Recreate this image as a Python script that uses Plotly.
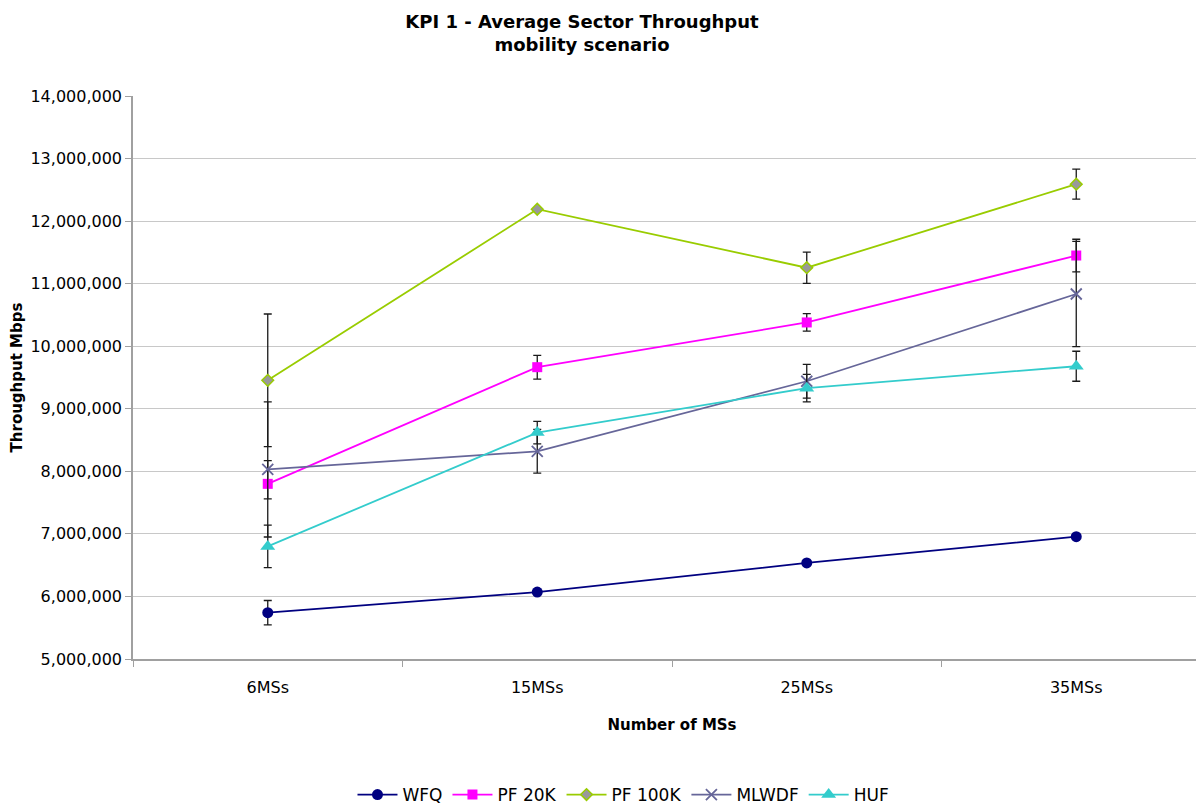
import plotly.graph_objects as go

categories = ["6MSs", "15MSs", "25MSs", "35MSs"]

wfq = [5740000, 6070000, 6535000, 6955000]
wfq_err = [195000, 30000, 30000, 30000]

pf20k = [7800000, 9665000, 10380000, 11450000]
pf20k_err_plus = [370000, 190000, 140000, 260000]
pf20k_err_minus = [240000, 190000, 140000, 260000]

pf100k = [9455000, 12190000, 11255000, 12590000]
pf100k_err = [1060000, 20000, 250000, 240000]

mlwdf = [8030000, 8320000, 9440000, 10835000]
mlwdf_err = [1080000, 350000, 270000, 840000]

huf = [6800000, 8620000, 9330000, 9680000]
huf_err = [340000, 180000, 220000, 240000]

y_ticks = [5000000, 6000000, 7000000, 8000000, 9000000, 10000000,
           11000000, 12000000, 13000000, 14000000]

FONT = "DejaVu Sans"
ERR_COLOR = "#1a1a1a"


def err(plus, minus=None):
    d = dict(type="data", array=plus, color=ERR_COLOR, thickness=1.3, width=4)
    if minus is not None:
        d["symmetric"] = False
        d["arrayminus"] = minus
    else:
        d["symmetric"] = True
    return d


fig = go.Figure()

fig.add_trace(go.Scatter(
    x=categories, y=wfq, name="WFQ", mode="lines+markers",
    line=dict(color="#000080", width=1.8),
    marker=dict(symbol="circle", size=11, color="#000080"),
    error_y=err(wfq_err)))

fig.add_trace(go.Scatter(
    x=categories, y=pf20k, name="PF 20K", mode="lines+markers",
    line=dict(color="#FF00FF", width=1.8),
    marker=dict(symbol="square", size=10, color="#FF00FF"),
    error_y=err(pf20k_err_plus, pf20k_err_minus)))

fig.add_trace(go.Scatter(
    x=categories, y=pf100k, name="PF 100K", mode="lines+markers",
    line=dict(color="#99CC00", width=1.8),
    marker=dict(symbol="diamond", size=9, color="#999999",
                line=dict(color="#99CC00", width=1.5)),
    error_y=err(pf100k_err)))

fig.add_trace(go.Scatter(
    x=categories, y=mlwdf, name="MLWDF", mode="lines+markers",
    line=dict(color="#666699", width=1.8),
    marker=dict(symbol="x-thin-open", size=11, color="#666699",
                line=dict(color="#666699", width=1.8)),
    error_y=err(mlwdf_err)))

fig.add_trace(go.Scatter(
    x=categories, y=huf, name="HUF", mode="lines+markers",
    line=dict(color="#33CCCC", width=1.8),
    marker=dict(symbol="triangle-up", size=13, color="#33CCCC"),
    error_y=err(huf_err)))

fig.update_layout(
    width=1204, height=805,
    paper_bgcolor="white", plot_bgcolor="white",
    margin=dict(l=125, r=1, t=88, b=154),
    font=dict(family=FONT, size=16, color="black"),
    title=dict(
        text="<b>KPI 1 - Average Sector Throughput<br>mobility scenario</b>",
        x=574 / 1204, xref="container", xanchor="center",
        y=1 - 20 / 805, yref="container", yanchor="middle",
        font=dict(family=FONT, size=18, color="black")),
    showlegend=True,
    legend=dict(orientation="h", x=0.455, xanchor="center",
                y=1 - 787 / 805, yref="container", yanchor="middle",
                font=dict(family=FONT, size=17, color="black"),
                itemwidth=40, tracegroupgap=0),
    xaxis=dict(
        type="category", categoryorder="array", categoryarray=categories,
        range=[-0.5, 3.5],
        showline=True, linecolor="#A0A0A0", linewidth=1.5,
        ticks="outside", tickson="boundaries", ticklen=6,
        tickcolor="#A0A0A0", ticklabelstandoff=13,
        showgrid=False, zeroline=False,
        tickfont=dict(family=FONT, size=16, color="black"),
        title=dict(text="<b>Number of MSs</b>", standoff=24,
                   font=dict(family=FONT, size=15, color="black")),
        automargin=False),
    yaxis=dict(
        range=[5000000, 14000000], tickvals=y_ticks, tickformat=",d",
        showline=True, linecolor="#A0A0A0", linewidth=1.5,
        ticks="outside", ticklen=6, tickcolor="#A0A0A0",
        showgrid=True, gridcolor="#C8C8C8", gridwidth=1,
        zeroline=False,
        tickfont=dict(family=FONT, size=16, color="black"),
        title=dict(text="<b>Throughput Mbps</b>", standoff=6,
                   font=dict(family=FONT, size=15, color="black")),
        automargin=False),
)

fig.write_html("out.html")
